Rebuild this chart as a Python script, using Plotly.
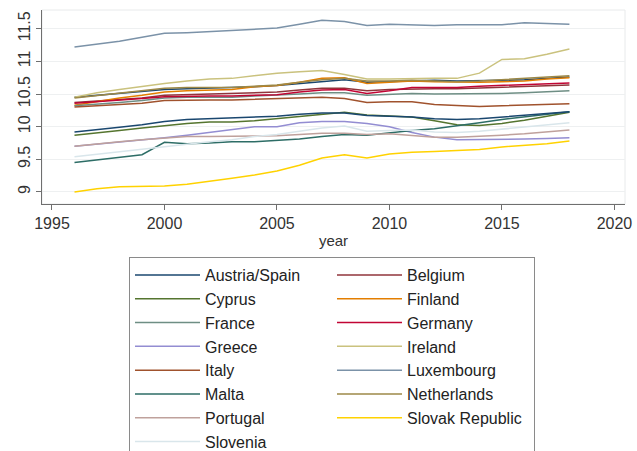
import plotly.graph_objects as go

# Log real GDP per capita by country, 1996-2018
years = list(range(1996, 2019))

austria = [10.45, 10.48, 10.51, 10.54, 10.57, 10.58, 10.59, 10.59, 10.61, 10.63, 10.66, 10.70,
           10.72, 10.68, 10.69, 10.71, 10.71, 10.70, 10.70, 10.71, 10.72, 10.74, 10.76]
spain = [9.92, 9.95, 9.99, 10.03, 10.08, 10.11, 10.12, 10.13, 10.14, 10.16, 10.19, 10.21,
         10.21, 10.17, 10.16, 10.15, 10.12, 10.11, 10.12, 10.15, 10.18, 10.21, 10.23]
belgium = [10.37, 10.39, 10.41, 10.44, 10.48, 10.49, 10.50, 10.50, 10.52, 10.53, 10.56, 10.59,
           10.59, 10.55, 10.57, 10.58, 10.58, 10.58, 10.59, 10.60, 10.61, 10.62, 10.64]
cyprus = [9.87, 9.90, 9.94, 9.98, 10.02, 10.05, 10.07, 10.07, 10.09, 10.12, 10.15, 10.19,
          10.22, 10.18, 10.17, 10.15, 10.09, 10.03, 10.02, 10.05, 10.10, 10.16, 10.22]
finland = [10.33, 10.39, 10.44, 10.48, 10.53, 10.55, 10.56, 10.57, 10.61, 10.63, 10.68, 10.74,
           10.75, 10.66, 10.68, 10.70, 10.69, 10.68, 10.68, 10.69, 10.70, 10.73, 10.75]
france = [10.32, 10.34, 10.37, 10.40, 10.44, 10.45, 10.45, 10.45, 10.47, 10.48, 10.50, 10.52,
          10.52, 10.48, 10.49, 10.51, 10.50, 10.50, 10.50, 10.51, 10.52, 10.54, 10.55]
germany = [10.36, 10.38, 10.41, 10.43, 10.46, 10.47, 10.47, 10.47, 10.48, 10.49, 10.53, 10.56,
           10.57, 10.51, 10.55, 10.60, 10.60, 10.60, 10.62, 10.63, 10.64, 10.66, 10.67]
greece = [9.70, 9.73, 9.76, 9.79, 9.83, 9.87, 9.91, 9.96, 10.00, 10.00, 10.06, 10.08,
          10.08, 10.05, 10.00, 9.91, 9.84, 9.80, 9.80, 9.80, 9.81, 9.82, 9.83]
ireland = [10.45, 10.52, 10.57, 10.62, 10.66, 10.70, 10.73, 10.74, 10.78, 10.82, 10.84, 10.86,
           10.80, 10.73, 10.73, 10.74, 10.74, 10.74, 10.82, 11.03, 11.04, 11.11, 11.19]
italy = [10.30, 10.32, 10.34, 10.36, 10.40, 10.41, 10.41, 10.41, 10.42, 10.42, 10.44, 10.45,
         10.43, 10.37, 10.38, 10.38, 10.34, 10.32, 10.31, 10.32, 10.33, 10.34, 10.35]
luxembourg = [11.22, 11.26, 11.31, 11.37, 11.43, 11.44, 11.46, 11.48, 11.50, 11.51, 11.57, 11.63,
              11.61, 11.55, 11.57, 11.56, 11.55, 11.56, 11.56, 11.56, 11.59, 11.58, 11.57]
malta = [9.45, 9.49, 9.53, 9.57, 9.76, 9.74, 9.75, 9.77, 9.77, 9.79, 9.81, 9.85,
         9.88, 9.87, 9.91, 9.94, 9.97, 10.01, 10.06, 10.11, 10.15, 10.19, 10.23]
netherlands = [10.44, 10.48, 10.52, 10.56, 10.59, 10.60, 10.60, 10.60, 10.62, 10.64, 10.68, 10.72,
               10.74, 10.70, 10.70, 10.71, 10.70, 10.69, 10.70, 10.72, 10.74, 10.76, 10.78]
portugal = [9.70, 9.74, 9.77, 9.80, 9.83, 9.85, 9.85, 9.85, 9.86, 9.86, 9.88, 9.90,
            9.90, 9.88, 9.89, 9.87, 9.84, 9.84, 9.85, 9.87, 9.89, 9.92, 9.95]
slovak = [9.00, 9.05, 9.08, 9.08, 9.09, 9.12, 9.16, 9.21, 9.26, 9.32, 9.41, 9.52,
          9.57, 9.52, 9.58, 9.61, 9.62, 9.63, 9.65, 9.69, 9.71, 9.74, 9.78]
slovenia = [9.54, 9.58, 9.61, 9.65, 9.70, 9.73, 9.77, 9.80, 9.85, 9.88, 9.93, 9.98,
            10.01, 9.93, 9.94, 9.95, 9.92, 9.91, 9.93, 9.96, 9.99, 10.03, 10.06]

x_ticks = [1995, 2000, 2005, 2010, 2015, 2020]
y_ticks = [9, 9.5, 10, 10.5, 11, 11.5]
y_tick_text = ["9", "9.5", "10", "10.5", "11", "11.5"]

# (legend label, values, colour, shown in legend, legend group)
series = [
    ("Austria/Spain", austria, "#1a476f", True, "as"),
    ("Belgium", belgium, "#90353b", True, "be"),
    ("Cyprus", cyprus, "#55752f", True, "cy"),
    ("Finland", finland, "#e37e00", True, "fi"),
    ("France", france, "#6e8e84", True, "fr"),
    ("Germany", germany, "#c10534", True, "de"),
    ("Greece", greece, "#938dd2", True, "gr"),
    ("Ireland", ireland, "#cac27e", True, "ie"),
    ("Italy", italy, "#a0522d", True, "it"),
    ("Luxembourg", luxembourg, "#7b92a8", True, "lu"),
    ("Malta", malta, "#2d6d66", True, "mt"),
    ("Netherlands", netherlands, "#9c8847", True, "nl"),
    ("Portugal", portugal, "#bfa19c", True, "pt"),
    ("Slovak Republic", slovak, "#ffd200", True, "sk"),
    ("Slovenia", slovenia, "#d9e6eb", True, "si"),
    ("Austria/Spain", spain, "#1a476f", False, "as"),
]

fig = go.Figure()
for name, vals, color, show, grp in series:
    fig.add_trace(go.Scatter(
        x=years, y=vals, mode="lines", name=name,
        line=dict(color=color, width=1.5),
        showlegend=show, legendgroup=grp,
    ))

axis_col = "#6f6f6f"
fig.update_xaxes(
    range=[1994.556, 2020.47], tickvals=x_ticks, ticks="outside", ticklen=5,
    tickcolor=axis_col, showline=True, linecolor=axis_col, linewidth=1,
    showgrid=False, zeroline=False, tickfont=dict(size=16, color="#333"),
    title=dict(text="year", font=dict(size=15, color="#333"), standoff=4),
)
fig.update_yaxes(
    range=[8.816, 11.787], tickvals=y_ticks, ticktext=y_tick_text, ticks="outside",
    ticklen=5, tickcolor=axis_col, showline=True, linecolor=axis_col, linewidth=1,
    showgrid=True, gridcolor="#eef0f1", gridwidth=1, zeroline=False,
    tickangle=-90, tickfont=dict(size=16, color="#333"),
)

# light frame around the plot region
fig.add_shape(type="rect", xref="paper", yref="paper", x0=0, x1=1, y0=0, y1=1,
              line=dict(color="#e8eaeb", width=1), layer="below")

fig.update_layout(
    width=637, height=451,
    margin=dict(l=42, r=12, t=10, b=247, autoexpand=False),
    paper_bgcolor="white", plot_bgcolor="white",
    font=dict(family="Liberation Sans, Arial, sans-serif", color="#333"),
    legend=dict(
        orientation="h", xref="container", yref="container",
        x=0.2025, xanchor="left", y=0.430, yanchor="top",
        bordercolor="#8a8a8a", borderwidth=1, bgcolor="white",
        itemwidth=65, entrywidth=122, font=dict(size=16, color="#222"),
        traceorder="normal",
    ),
)

fig.write_html("out.html")
